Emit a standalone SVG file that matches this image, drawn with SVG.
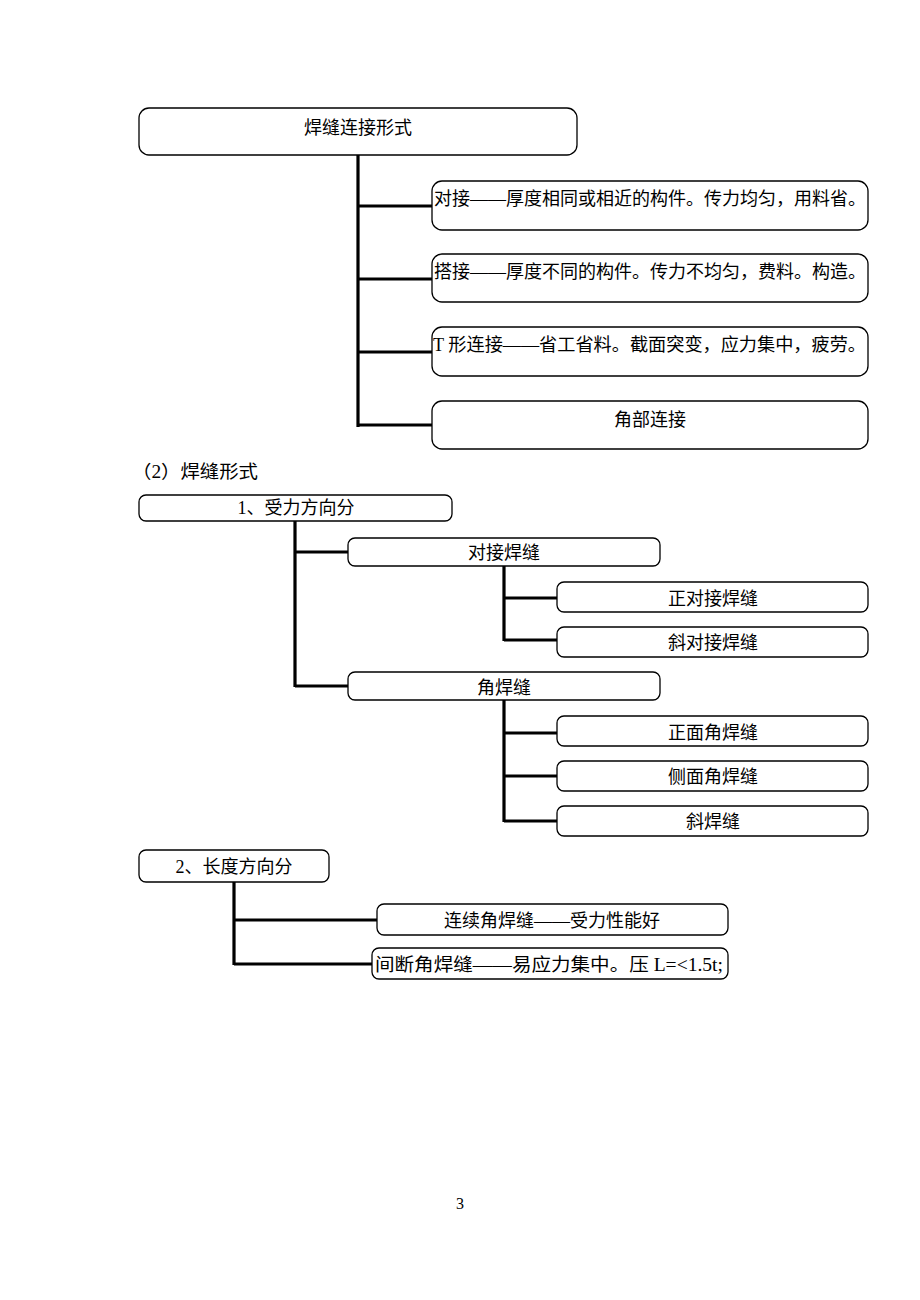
<svg xmlns="http://www.w3.org/2000/svg" width="920" height="1300" viewBox="0 0 920 1300">
<style>
.box{fill:#fff;stroke:#000;stroke-width:1.3}
.t{font-family:"Liberation Serif","Noto Sans CJK SC",serif;font-size:18px;fill:#000}
.c{text-anchor:middle}
.ln{stroke:#000;stroke-width:3.2;fill:none}
</style>
<rect width="920" height="1300" fill="#fff"/>
<g id="connectors">
<path class="ln" d="M358 155V427M358 206H432M358 279H432M358 352H432M358 425H432"/>
<path class="ln" d="M295 521V687M295 552H348M295 686H348"/>
<path class="ln" d="M504 566V641M504 598H557M504 640H557"/>
<path class="ln" d="M504 700V822M504 733H557M504 776H557M504 821H557"/>
<path class="ln" d="M234 882V965M234 920H377M234 964H372"/>
</g>
<g id="n-root"><rect class="box" x="139" y="108" width="438" height="47" rx="10"/><text class="t c" x="358" y="134">焊缝连接形式</text></g>
<g id="n-duijie"><rect class="box" x="432" y="181" width="436" height="49" rx="10"/><text class="t" x="434" y="205" textLength="432" lengthAdjust="spacingAndGlyphs">对接——厚度相同或相近的构件。传力均匀，用料省。</text></g>
<g id="n-dajie"><rect class="box" x="432" y="254" width="436" height="48" rx="10"/><text class="t" x="434" y="278" textLength="432" lengthAdjust="spacingAndGlyphs">搭接——厚度不同的构件。传力不均匀，费料。构造。</text></g>
<g id="n-tjie"><rect class="box" x="432" y="327" width="436" height="49" rx="10"/><text class="t" x="433" y="351" textLength="433" lengthAdjust="spacingAndGlyphs">T 形连接——省工省料。截面突变，应力集中，疲劳。</text></g>
<g id="n-jiaobu"><rect class="box" x="432" y="401" width="436" height="48" rx="10"/><text class="t c" x="650" y="426">角部连接</text></g>
<g id="heading"><text class="t" x="132" y="478" textLength="126" lengthAdjust="spacingAndGlyphs">（2）焊缝形式</text></g>
<g id="n-shouli"><rect class="box" x="139" y="495" width="313" height="26" rx="7"/><text class="t c" x="296" y="514">1、受力方向分</text></g>
<g id="n-duijiehf"><rect class="box" x="348" y="538" width="312" height="28" rx="7"/><text class="t c" x="504" y="559">对接焊缝</text></g>
<g id="n-zheng"><rect class="box" x="557" y="582" width="311" height="30" rx="7"/><text class="t c" x="713" y="605">正对接焊缝</text></g>
<g id="n-xiedui"><rect class="box" x="557" y="627" width="311" height="30" rx="7"/><text class="t c" x="713" y="649">斜对接焊缝</text></g>
<g id="n-jiaohf"><rect class="box" x="348" y="672" width="312" height="28" rx="7"/><text class="t c" x="504" y="694">角焊缝</text></g>
<g id="n-zhengmian"><rect class="box" x="557" y="716" width="311" height="30" rx="7"/><text class="t c" x="713" y="739">正面角焊缝</text></g>
<g id="n-cemian"><rect class="box" x="557" y="761" width="311" height="30" rx="7"/><text class="t c" x="713" y="783">侧面角焊缝</text></g>
<g id="n-xiehf"><rect class="box" x="557" y="806" width="311" height="30" rx="7"/><text class="t c" x="713" y="828">斜焊缝</text></g>
<g id="n-changdu"><rect class="box" x="139" y="850" width="190" height="32" rx="7"/><text class="t c" x="234" y="873">2、长度方向分</text></g>
<g id="n-lianxu"><rect class="box" x="377" y="904" width="351" height="31" rx="7"/><text class="t c" x="552" y="927">连续角焊缝——受力性能好</text></g>
<g id="n-jianduan"><rect class="box" x="372" y="948" width="356" height="31" rx="7"/><text class="t" x="375" y="971" textLength="348" lengthAdjust="spacingAndGlyphs">间断角焊缝——易应力集中。压 L=&lt;1.5t;</text></g>
<text class="t c" x="460" y="1209" style="font-size:16px">3</text>
</svg>
